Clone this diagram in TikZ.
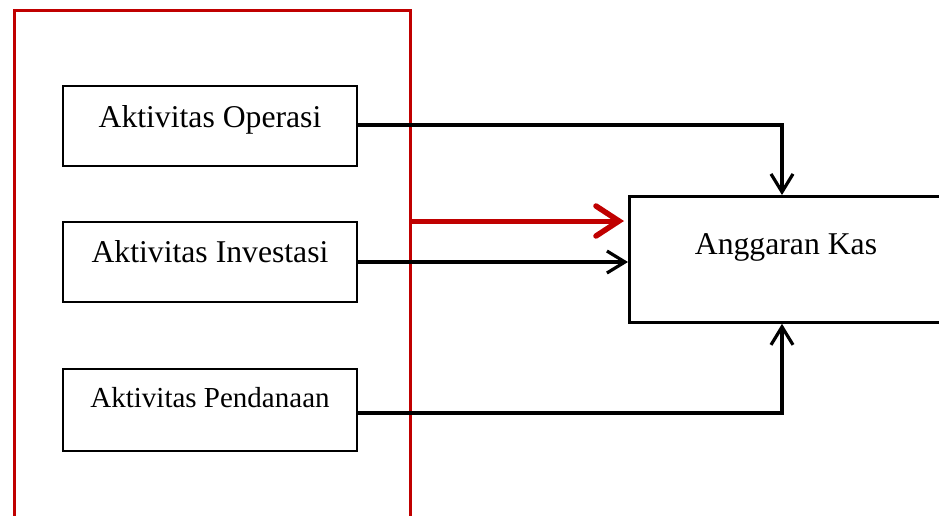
\documentclass[tikz,border=0pt]{standalone}
\usepackage{fontspec}
\setmainfont{Liberation Serif}
\usetikzlibrary{arrows.meta}
\definecolor{darkred}{RGB}{192,0,0}
\tikzset{
  box/.style={draw=black, line width=2.8pt, rectangle, inner sep=0pt},
  txt/.style={inner sep=0pt, font=\fontsize{31.7}{38}\selectfont},
  smalltxt/.style={inner sep=0pt, font=\fontsize{29}{35}\selectfont},
  redbox/.style={draw=darkred, line width=2.8pt, rectangle, inner sep=0pt},
  arr/.style={draw=black, line width=3.2pt, -{Straight Barb[length=18pt, width=22pt, line width=3.2pt]}},
  redarr/.style={draw=darkred, line width=5pt, line cap=round, -{Straight Barb[length=23pt, width=30pt, line width=5.5pt, line cap=round]}}
}
\begin{document}
\begin{tikzpicture}[x=1pt, y=-1pt]
\useasboundingbox (0,0) rectangle (939,515);
\clip (0,0) rectangle (939,515);
% red frame
\node[redbox, minimum width=396pt, minimum height=530pt, anchor=north west] (rb) at (13,9) {};
% activity boxes
\node[box, minimum width=294pt, minimum height=80pt] (op) at (210,126) {};
\node[txt, anchor=base] (optxt) at (210,127) {Aktivitas Operasi};
\node[box, minimum width=294pt, minimum height=80pt] (inv) at (210,262) {};
\node[txt, anchor=base] (invtxt) at (210,262) {Aktivitas Investasi};
\node[box, minimum width=294pt, minimum height=82pt] (pd) at (210,410) {};
\node[smalltxt, anchor=base] (pdtxt) at (210,407) {Aktivitas Pendanaan};
% target box
\node[box, minimum width=320pt, minimum height=126pt, anchor=north west] (ak) at (628,195) {};
\node[txt, anchor=base] (aktxt) at (786,254) {Anggaran Kas};
% helper coordinates
\coordinate (kx) at (782,0);
\coordinate (ry) at (0,221);
\coordinate (oy) at (0,125);
\coordinate (py) at (0,413);
% connectors
\draw[arr] (op.east |- oy) -| (kx |- ak.north);
\draw[arr] (inv.east) -- (inv.east -| ak.west);
\draw[arr] (pd.east |- py) -| (kx |- ak.south);
\draw[redarr] (rb.east |- ry) -- ([xshift=-4pt]ak.west |- ry);
\end{tikzpicture}
\end{document}
